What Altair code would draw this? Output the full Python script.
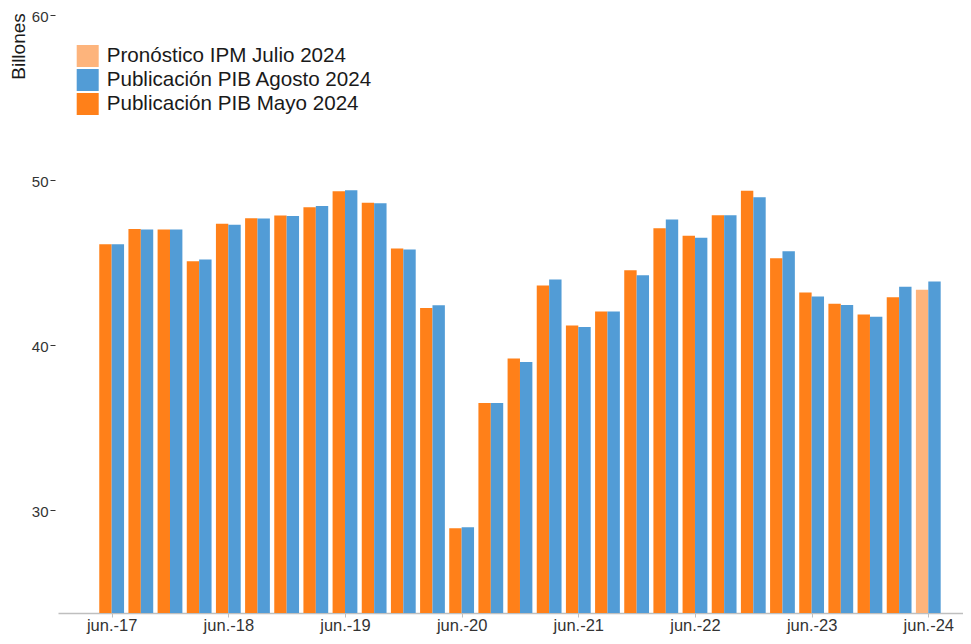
import altair as alt
import pandas as pd

quarters = [
    "jun.-17", "sep.-17", "dic.-17", "mar.-18", "jun.-18", "sep.-18", "dic.-18", "mar.-19",
    "jun.-19", "sep.-19", "dic.-19", "mar.-20", "jun.-20", "sep.-20", "dic.-20", "mar.-21",
    "jun.-21", "sep.-21", "dic.-21", "mar.-22", "jun.-22", "sep.-22", "dic.-22", "mar.-23",
    "jun.-23", "sep.-23", "dic.-23", "mar.-24", "jun.-24",
]
mayo = [46.10, 47.03, 47.00, 45.07, 47.35, 47.68, 47.84, 48.34, 49.31, 48.61, 45.84, 42.24,
        28.89, 36.48, 39.17, 43.60, 41.17, 42.02, 44.52, 47.07, 46.62, 47.86, 49.35, 45.25,
        43.17, 42.50, 41.84, 42.89, None]
agosto = [46.10, 47.00, 47.00, 45.17, 47.29, 47.66, 47.82, 48.42, 49.37, 48.59, 45.78, 42.40,
          28.95, 36.48, 38.97, 43.96, 41.09, 42.02, 44.22, 47.60, 46.50, 47.86, 48.95, 45.68,
          42.93, 42.42, 41.70, 43.52, 43.84]
pronostico = [None] * 28 + [43.35]

series_names = ["Pronóstico IPM Julio 2024", "Publicación PIB Agosto 2024", "Publicación PIB Mayo 2024"]
series_colors = ["#FDB47C", "#529CD6", "#FF8019"]
tick_quarters = list(range(0, 29, 4))
y_ticks = [30, 40, 50, 60]
Y_MIN, Y_MAX = 23.75, 60.42

HALF = 0.425
rows = []
for i, q in enumerate(quarters):
    if mayo[i] is not None:
        rows.append(dict(q=q, x0=i - HALF, x1=i, v=mayo[i], s=series_names[2]))
    if pronostico[i] is not None:
        rows.append(dict(q=q, x0=i - HALF, x1=i, v=pronostico[i], s=series_names[0]))
    if agosto[i] is not None:
        rows.append(dict(q=q, x0=i, x1=i + HALF, v=agosto[i], s=series_names[1]))
df = pd.DataFrame(rows)

FONT = "Liberation Sans"
label_expr = "[" + ",".join("'" + q + "'" for q in quarters) + "][datum.value]"

chart = (
    alt.Chart(df)
    .mark_bar(clip=True)
    .encode(
        x=alt.X(
            "x0:Q",
            scale=alt.Scale(domain=[-1.84, 29.19], nice=False, zero=False),
            axis=alt.Axis(
                values=tick_quarters, labelExpr=label_expr, title=None, grid=False,
                domainColor="#BFBFBF", domainWidth=1.5, tickColor="#BFBFBF", tickSize=4,
                labelPadding=0, labelFontSize=16.5, labelColor="#333333", labelFont=FONT,
            ),
        ),
        x2="x1:Q",
        y=alt.Y(
            "v:Q",
            stack=None,
            scale=alt.Scale(domain=[Y_MIN, Y_MAX], nice=False, zero=False),
            axis=alt.Axis(
                values=y_ticks, title="Billones", titleFont=FONT, titleFontSize=19,
                titleFontWeight="normal", titleColor="#1a1a1a", titleAngle=270,
                titleX=-31, titleY=38, titleAlign="center", titleBaseline="alphabetic",
                labelFontSize=15, labelColor="#333333", labelFont=FONT, tickColor="#333333",
                tickSize=5, labelPadding=2, labelOffset=1.2, domain=False, grid=False, offset=3,
            ),
        ),
        y2=alt.datum(Y_MIN),
        color=alt.Color(
            "s:N",
            scale=alt.Scale(domain=series_names, range=series_colors),
            legend=alt.Legend(
                title=None, orient="none", legendX=18.7, legendY=37, symbolType="square",
                symbolSize=484, symbolStrokeWidth=0, labelFontSize=20.6, labelFont=FONT,
                labelColor="#1a1a1a", rowPadding=2, labelOffset=8, padding=0,
                labelLimit=400,
            ),
        ),
    )
    .properties(
        width=905, height=605,
        padding={"left": 50, "top": 0, "right": 0, "bottom": 22},
        autosize=alt.AutoSizeParams(type="none"),
        background="white",
    )
    .configure_view(stroke=None)
)

chart.save("out.html", embed_options={"renderer": "svg", "actions": False})
